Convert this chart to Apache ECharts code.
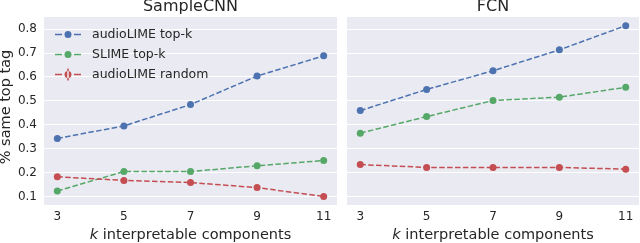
<!DOCTYPE html>
<html><head><meta charset="utf-8">
<script src="https://cdn.jsdelivr.net/npm/echarts@6/dist/echarts.min.js"></script>
<style>html,body{margin:0;padding:0;background:#fff}#c{width:640px;height:243px}</style>
</head><body><div id="c"></div>
<script>
const kValues = [3, 5, 7, 9, 11];
const panelTitles = ['SampleCNN', 'FCN'];
const seriesNames = ['audioLIME top-k', 'SLIME top-k', 'audioLIME random'];
const sampleCnnTopK   = [0.343, 0.395, 0.484, 0.603, 0.687];
const sampleCnnSlime  = [0.124, 0.205, 0.205, 0.229, 0.251];
const sampleCnnRandom = [0.183, 0.168, 0.159, 0.138, 0.101];
const fcnTopK   = [0.459, 0.547, 0.625, 0.712, 0.813];
const fcnSlime  = [0.365, 0.434, 0.501, 0.515, 0.556];
const fcnRandom = [0.234, 0.222, 0.222, 0.222, 0.215];
const yTicks = [0.1, 0.2, 0.3, 0.4, 0.5, 0.6, 0.7, 0.8];

const colors = ['#4c72b0', '#55a868', '#c44e52'];
const txt = '#262626';
const font = 'DejaVu Sans';

const iconLine = 'path://M0,5.25h7v1.5h-7z M19,5.25h7v1.5h-7z M9.5,6a3.5,3.5 0 1,0 7,0a3.5,3.5 0 1,0 -7,0z';
const iconErr = 'path://M0,5.25h7v1.5h-7z M19,5.25h7v1.5h-7z M9.5,6a3.5,3.5 0 1,0 7,0a3.5,3.5 0 1,0 -7,0z M12.25,0h1.5v12h-1.5z';

const grids = [
  {left: 44, top: 17, width: 293, height: 188},
  {left: 347, top: 17, width: 292, height: 188}
];

function xAxis(i) {
  return {
    type: 'value', gridIndex: i, min: 2.6, max: 11.4, interval: 0.2,
    axisLine: {show: false}, axisTick: {show: false}, splitLine: {show: false},
    axisLabel: {
      color: txt, fontFamily: font, fontSize: 12, margin: 6, hideOverlap: false,
      formatter: v => { const r = Math.round(v); return (Math.abs(v - r) < 1e-6 && kValues.includes(r)) ? String(r) : ''; }
    },
    name: '{i|k} interpretable components', nameLocation: 'middle', nameGap: 19,
    nameTextStyle: {color: txt, fontFamily: font, fontSize: 14.5, rich: {i: {fontStyle: 'italic', fontFamily: font, fontSize: 14.5, color: txt}}}
  };
}
function yAxis(i) {
  return {
    type: 'value', gridIndex: i, min: 0.0655, max: 0.849, interval: 0.0005,
    axisLine: {show: false}, axisTick: {show: false}, splitLine: {show: false},
    axisLabel: {
      show: i === 0, color: txt, fontFamily: font, fontSize: 12, margin: 7, hideOverlap: false,
      formatter: v => { const r = Math.round(v * 10) / 10; return (Math.abs(v - r) < 1e-7 && yTicks.some(t => Math.abs(t - r) < 1e-9)) ? r.toFixed(1) : ''; }
    },
    name: i === 0 ? '% same top tag' : '', nameLocation: 'middle', nameGap: 27, nameRotate: 90,
    nameTextStyle: {color: txt, fontFamily: font, fontSize: 14.5, padding: [0, 0, 0, 8]}
  };
}
function mkSeries(name, data, ci, gi, withGrid) {
  const s = {
    name: name, type: 'line', xAxisIndex: gi, yAxisIndex: gi,
    data: kValues.map((k, j) => [k, data[j]]),
    symbol: 'circle', symbolSize: 7, showSymbol: true,
    itemStyle: {color: colors[ci]},
    lineStyle: {color: colors[ci], width: 1.5, type: [5.5, 2.4]},
    z: 5, animation: false
  };
  if (withGrid) {
    s.markLine = {
      silent: true, symbol: 'none', label: {show: false}, z: 1,
      lineStyle: {color: '#ffffff', width: 1, type: 'solid'},
      data: yTicks.map(t => ({yAxis: t}))
    };
  }
  return s;
}
const chart = echarts.init(document.getElementById('c'), null, {renderer: 'canvas'});
chart.setOption({
  animation: false,
  backgroundColor: '#ffffff',
  title: panelTitles.map((t, i) => ({
    text: t, left: grids[i].left + grids[i].width / 2, top: -1.5, textAlign: 'center', padding: 0,
    textStyle: {color: txt, fontFamily: font, fontSize: 16, fontWeight: 'normal'}
  })),
  grid: grids.map(g => Object.assign({show: true, backgroundColor: '#eaeaf2', borderWidth: 0, containLabel: false, outerBoundsMode: 'none'}, g)),
  xAxis: [xAxis(0), xAxis(1)],
  yAxis: [yAxis(0), yAxis(1)],
  legend: {
    orient: 'vertical', left: 50, top: 23, itemGap: 7, itemWidth: 26, itemHeight: 12,
    textStyle: {color: txt, fontFamily: font, fontSize: 12.5, padding: [0, 0, 0, 6]},
    data: [
      {name: seriesNames[0], icon: iconLine},
      {name: seriesNames[1], icon: iconLine},
      {name: seriesNames[2], icon: iconErr}
    ]
  },
  series: [
    mkSeries(seriesNames[0], sampleCnnTopK, 0, 0, true),
    mkSeries(seriesNames[1], sampleCnnSlime, 1, 0, false),
    mkSeries(seriesNames[2], sampleCnnRandom, 2, 0, false),
    mkSeries(seriesNames[0], fcnTopK, 0, 1, true),
    mkSeries(seriesNames[1], fcnSlime, 1, 1, false),
    mkSeries(seriesNames[2], fcnRandom, 2, 1, false)
  ]
});
</script></body></html>
